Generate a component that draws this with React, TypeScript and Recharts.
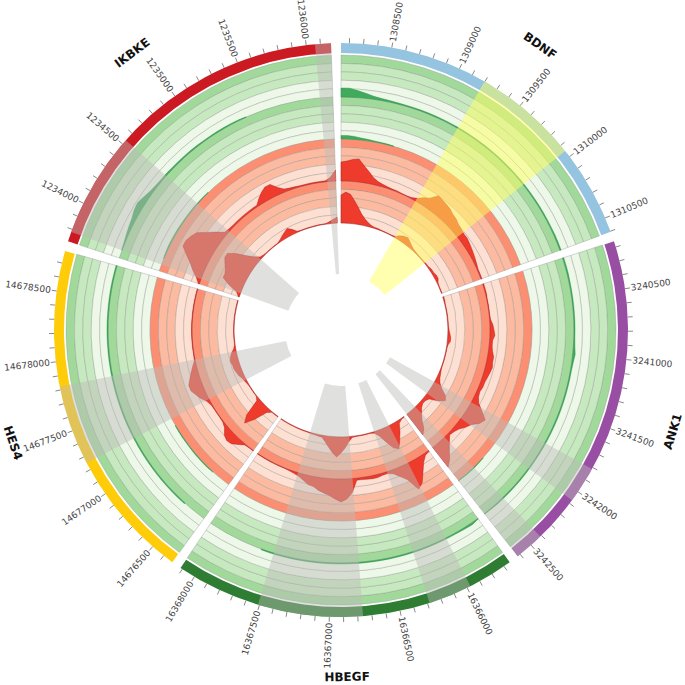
import React from "react";
import { Cell, Pie, PieChart, PolarAngleAxis, PolarRadiusAxis, Radar, RadarChart } from "recharts";

const sectorNames = ["BDNF", "ANK1", "HBEGF", "HES4", "IKBKE"];
const sectorStarts = [1308141, 3240158, 16365651, 14676324, 1233711];
const sectorColors = ["#94C4DF", "#984EA3", "#2E7D32", "#FFCC0A", "#CB1A22"];

// highlighted regions, in bp, one list per sector
const highlights = [
  [[1309197, 1309950]],
  [[3241812, 3242073], [3242411, 3242622]],
  [[16365975, 16366285], [16366763, 16367510]],
  [[14677253, 14677824]],
  [[1233781, 1234535], [1236062, 1236175]],
];

// coverage profiles sampled every 2 degrees, one list per sector
const bdnfG1 = [9, 9, 7, 5, 3, 2, 1.5, 1.2, 1, 1, 1, 1, 1, 1, 1, 1, 1, 1, 1, 1, 1, 1, 1, 1, 1, 1, 1, 1, 1, 1, 1, 1, 1, 1.2, 1.2, 1.2];
const bdnfG2 = [3.5, 3.5, 3, 2, 1.5, 1, 0.8, 0.6, 0.4, null, null, null, null, null, null, null, null, null, null, null, null, null, null, null, null, null, null, null, null, null, null, null, null, null, null, null];
const bdnfR1 = [19, 20, 22, 23, 17, 12, 7, 4, 2.5, 1.5, 1, 1, 0.5, 0.5, 1, 3, 7, 10, 17, 16, 15, 14, 12, 11, 9, 8, 7, 7, 6, 5, 4, 3, 2, 1, 1, 1];
const bdnfR2 = [28, 31, 29, 23, 17, 11, 7, 4, 2, 1, 1, 0.5, 0.5, 0.5, 0.5, 1, 4, 6, 7, 5, 3, 1.5, 1, 0.5, 0.5, 0.5, 1, 1, 2, 2, 3, 3, 1, 0.5, 0.5, 0.5];

const ank1G1 = [1.2, 1.2, 1.2, 1, 1, 1, 1, 1, 1, 1, 1, 1.5, 2.5, 1.5, 1, 1, 1, 1, 1, 1, 1, 1, 1, 1, 1, 1, 1, 1, 1, 1, 1, 1, 1, 1, 0.8, 0.6];
const ank1G2 = [null, null, null, null, null, null, null, null, null, null, null, null, null, null, null, null, null, null, null, null, null, null, null, null, null, null, null, null, null, null, 0.4, 0.6, 0.8, 0.8, 0.6, 0.4];
const ank1R1 = [1, 1, 1, 0.5, 0.5, 0.5, 0.5, 1, 3, 4, 5, 3, 3, 4, 6, 6, 7, 6, 5, 4, 4, 3, 4, 7, 14, 21, 18, 12, 9, 5, 3, 2, 7, 13, 20, 25];
const ank1R2 = [1, 1, 0.5, 0.5, 0.5, 0.5, 0.5, 0.5, 0.5, 1, 2, 3, 3, 1, 0.5, 0.5, 0.5, 0.5, 0.5, 0.5, 1, 2, 3, 5, 9, 16, 19, 14, 5, 3, 3, 5, 9, 14, 22, 26];

const hbegfG1 = [0.5, 1.8, 1.5, 1, 1, 1, 1, 1, 1, 1, 1, 1, 1, 1, 1, 1, 1, 1, 1, 1, 1, 1, 1, 1, 1, 1, 1, 1, 0.8, null, null, null, null, null, null, null];
const hbegfG2 = [null, null, null, null, null, null, null, null, null, null, null, null, null, null, null, null, null, null, null, null, null, null, null, null, null, null, null, null, null, null, null, null, null, null, null, null];
const hbegfR1 = [1, 2, 7, 15, 24, 28, 15, 9, 4, 2, 2, 3, 3, 2.5, 2, 2, 14, 20, 23, 20, 17, 15, 13, 10, 9, 6, 3.5, 2, 1, 0.5, 0.5, 0.5, 0.5, 0.5, 0.5, 0.5];
const hbegfR2 = [0.5, 1, 3, 11, 18, 25, 22, 14, 6, 1.5, 0.5, 0.5, 0.5, 0.5, 0.5, 1, 5, 11, 16, 20, 16, 11, 6, 2, 1.5, 1, 1, 0.5, 0.5, 0.5, 0.5, 0.5, 0.5, 0.5, 0.5, 0.5];

const hes4G1 = [null, null, null, 0.8, 1, 1, 1, 1, 1, 1, 1, 1, 1, 1, 1, 1, 1, 1, 1, 1, 1, 1, 1, 1, 1, 1, 1, 1, 1, 1, 1, 1, 1, 1, 1, 1];
const hes4G2 = [null, null, null, 0.4, 0.8, 0.8, 0.8, 0.8, 0.6, 0.6, 0.6, 0.6, 0.4, null, null, null, null, null, null, null, null, null, null, null, null, null, null, null, null, null, null, null, null, null, null, null];
const hes4R1 = [0.5, 0.5, 1, 5, 9, 10, 8, 3, 1, 0.5, 0.5, 0.5, 1, 3, 7, 10, 13, 13, 10, 7, 4, 1, 0.5, 0.5, 0.5, 0.5, 0.5, 0.5, 0.5, 0.5, 0.5, 0.5, 0.5, 0.5, 0.5, 0.5];
const hes4R2 = [0.5, 0.5, 0.5, 4, 17, 27, 20, 3, 0.5, 0.5, 0.5, 0.5, 1, 2, 3, 5, 6, 7, 7, 8, 7, 5, 2, 0.5, 0.5, 0.5, 0.5, 0.5, 0.5, 0.5, 0.5, 0.5, 0.5, 0.5, 0.5, 0.5];

const ikbkeG1 = [null, 0.5, 1, 2, 3, 4, 6, 7, 5, 3, 2, 1.5, 1.5, 1.2, 1.2, 1.2, 1.2, 1.2, 1, 1, 1, 1, 1, 0.8, 0.3, null, null, null, null, null, null, null, null, null, null, null];
const ikbkeG2 = [null, null, 0.4, 0.8, 1, 1, 1, 1, 0.8, 0.8, 0.8, 0.8, 0.6, 0.6, 0.4, null, null, null, null, null, null, null, null, null, null, null, null, null, null, null, null, null, null, null, null, null];
const ikbkeR1 = [1, 5, 11, 16, 23, 30, 30, 28, 25, 17, 10, 3, 2, 1.5, 1.5, 1.5, 1.5, 1.5, 1.5, 1.5, 6, 10, 13, 13, 7, 3, 2, 1.5, 1, 1, 1, 1, 1, 1, 4, 11];
const ikbkeR2 = [1, 4, 14, 22, 22, 24, 27, 30, 30, 23, 14, 7, 2, 1, 0.5, 0.5, 0.5, 0.5, 0.5, 2, 4, 6, 8, 5, 1, 0.5, 0.5, 0.5, 0.5, 0.5, 0.5, 0.5, 0.5, 2, 4, 6];

const greenOne = [bdnfG1, ank1G1, hbegfG1, hes4G1, ikbkeG1];
const greenTwo = [bdnfG2, ank1G2, hbegfG2, hes4G2, ikbkeG2];
const redOne = [bdnfR1, ank1R1, hbegfR1, hes4R1, ikbkeR1];
const redTwo = [bdnfR2, ank1R2, hbegfR2, hes4R2, ikbkeR2];

const CX = 341;
const CY = 330;
const SAMPLE_BP = 70.4;
const SECTOR_BP = 35 * SAMPLE_BP;
const GAP_BP = 2 * 35.2;
const TOTAL_BP = 5 * (SECTOR_BP + GAP_BP);
const offsetOf = (i) => i * (SECTOR_BP + GAP_BP);

const GREENS = ["#A1D99B", "#C7E9C0", "#C7E9C0", "#EDF8E9", "#EDF8E9"];
const REDS = ["#FC8F72", "#FCBBA1", "#FCBBA1", "#FEE0D2", "#FEE0D2"];
const tracks = [
  { key: "g1", base: 233, values: greenOne, bands: GREENS, fill: "#41AB5D", edge: "#238B45" },
  { key: "g2", base: 191, values: greenTwo, bands: GREENS, fill: "#41AB5D", edge: "#238B45" },
  { key: "r1", base: 149, values: redOne, bands: REDS, fill: "#EF3B2C", edge: "#A50F15" },
  { key: "r2", base: 107, values: redTwo, bands: REDS, fill: "#EF3B2C", edge: "#A50F15" },
];

// one row per sample, with [base, top] ranges for the radial areas
const rows: any[] = [];
sectorNames.forEach((_, s) => {
  for (let k = 0; k < 36; k++) {
    const row: any = { x: offsetOf(s) + k * SAMPLE_BP };
    tracks.forEach((t) => {
      const v = t.values[s][k];
      if (v !== null) row[`${t.key}${s}`] = [t.base, t.base + v];
    });
    rows.push(row);
  }
});

const tickValues: number[] = [];
const tickLabels: Record<number, string> = {};
sectorStarts.forEach((start, s) => {
  for (let p = Math.ceil(start / 100) * 100; p <= start + SECTOR_BP; p += 100) {
    const x = offsetOf(s) + p - start;
    tickValues.push(x);
    if (p % 500 === 0) tickLabels[x] = String(p);
  }
});

const ringData = sectorNames.flatMap((name, s) => [
  { name, value: SECTOR_BP, fill: sectorColors[s] },
  { name: "", value: GAP_BP, fill: "none" },
]);

const highlightData = sectorStarts.flatMap((start, s) => {
  const out: any[] = [];
  let cursor = 0;
  highlights[s].forEach(([a, b]) => {
    out.push({ value: a - start - cursor, fill: "none" });
    out.push({ value: b - a, fill: s === 0 ? "#FFFF60" : "#BBBBB7" });
    cursor = b - start;
  });
  out.push({ value: SECTOR_BP - cursor + GAP_BP, fill: "none" });
  return out;
});

const polar = (r, deg) => {
  const a = (deg * Math.PI) / 180;
  return { x: CX + r * Math.sin(a), y: CY - r * Math.cos(a) };
};

function AxisTick({ payload }: any) {
  const deg = (payload.value / TOTAL_BP) * 360;
  const a = polar(287, deg);
  const b = polar(292, deg);
  const t = polar(293, deg);
  const label = tickLabels[payload.value];
  const right = deg < 180;
  return (
    <g>
      <line x1={a.x} y1={a.y} x2={b.x} y2={b.y} stroke="#555" strokeWidth={0.7} />
      {label && (
        <text
          x={t.x}
          y={t.y}
          fontSize={9}
          fontFamily="DejaVu Sans"
          fill="#444"
          textAnchor={right ? "start" : "end"}
          dominantBaseline="central"
          transform={`rotate(${right ? deg - 90 : deg - 270} ${t.x} ${t.y})`}
        >
          {label}
        </text>
      )}
    </g>
  );
}

function SectorName({ midAngle, name }: any) {
  if (!name) return null;
  const deg = 90 - midAngle;
  const norm = ((deg % 360) + 360) % 360;
  const p = polar(347, norm);
  const rot = norm > 90 && norm < 270 ? norm - 180 : norm;
  return (
    <text
      x={p.x}
      y={p.y}
      fontSize={12}
      fontWeight="bold"
      fontFamily="DejaVu Sans"
      fill="#111"
      textAnchor="middle"
      dominantBaseline="central"
      transform={`rotate(${rot} ${p.x} ${p.y})`}
    >
      {name}
    </text>
  );
}

// the band between the two ends of each [base, top] range; rows without a value are skipped
function RangeShape({ points, fill, stroke, strokeWidth }: any) {
  const valid = points.filter((p) => Array.isArray(p.value));
  if (valid.length === 0) return null;
  const top = valid.map((p) => [p.x, p.y]);
  const bottom = valid
    .map((p) => {
      const f = p.value[0] / p.value[1];
      return [p.cx + (p.x - p.cx) * f, p.cy + (p.y - p.cy) * f];
    })
    .reverse();
  const d = "M" + [...top, ...bottom].map((q) => q.join(",")).join("L") + "Z";
  return <path d={d} fill={fill} stroke={stroke} strokeWidth={strokeWidth} />;
}

const layer: React.CSSProperties = { position: "absolute", left: 0, top: 0 };
const pieProps = { cx: CX, cy: CY, startAngle: 90, endAngle: -270, dataKey: "value", isAnimationActive: false };

function App() {
  return (
    <div style={{ position: "absolute", left: 0, top: 0, width: 685, height: 685, background: "#fff" }}>
      <div style={layer}>
        <PieChart width={685} height={685} margin={{ top: 0, right: 0, bottom: 0, left: 0 }}>
          <Pie {...pieProps} data={ringData} innerRadius={277} outerRadius={287} label={SectorName} labelLine={false}>
            {ringData.map((d, i) => (
              <Cell key={i} fill={d.fill} stroke="none" />
            ))}
          </Pie>
          {tracks.flatMap((t) =>
            t.bands.map((color, b) => (
              <Pie
                {...pieProps}
                key={`${t.key}-${b}`}
                data={ringData}
                innerRadius={t.base + 42 - (b + 1) * 8.4}
                outerRadius={t.base + 42 - b * 8.4}
              >
                {ringData.map((d, i) => (
                  <Cell key={i} fill={d.name ? color : "none"} stroke={d.name ? "#8a8a8a" : "none"} strokeWidth={0.35} />
                ))}
              </Pie>
            ))
          )}
        </PieChart>
      </div>
      <div style={layer}>
        <RadarChart width={685} height={685} cx={CX} cy={CY} innerRadius={0} outerRadius={287} data={rows} margin={{ top: 0, right: 0, bottom: 0, left: 0 }}>
          <PolarRadiusAxis type="number" domain={[0, 287]} tick={false} axisLine={false} />
          <PolarAngleAxis type="number" dataKey="x" domain={[0, TOTAL_BP]} ticks={tickValues} tick={AxisTick} tickLine={false} axisLine={false} />
          {tracks.flatMap((t) =>
            sectorNames.map((_, s) => (
              <Radar
                key={`${t.key}${s}`}
                dataKey={`${t.key}${s}`}
                fill={t.fill}
                fillOpacity={1}
                stroke={t.edge}
                strokeWidth={0.4}
                shape={RangeShape}
                isAnimationActive={false}
              />
            ))
          )}
        </RadarChart>
      </div>
      <div style={layer}>
        <PieChart width={685} height={685} margin={{ top: 0, right: 0, bottom: 0, left: 0 }}>
          <Pie {...pieProps} data={highlightData} innerRadius={56} outerRadius={287}>
            {highlightData.map((d, i) => (
              <Cell key={i} fill={d.fill} fillOpacity={d.fill === "#FFFF60" ? 0.5 : 0.46} stroke="none" />
            ))}
          </Pie>
        </PieChart>
      </div>
    </div>
  );
}

export default App;
